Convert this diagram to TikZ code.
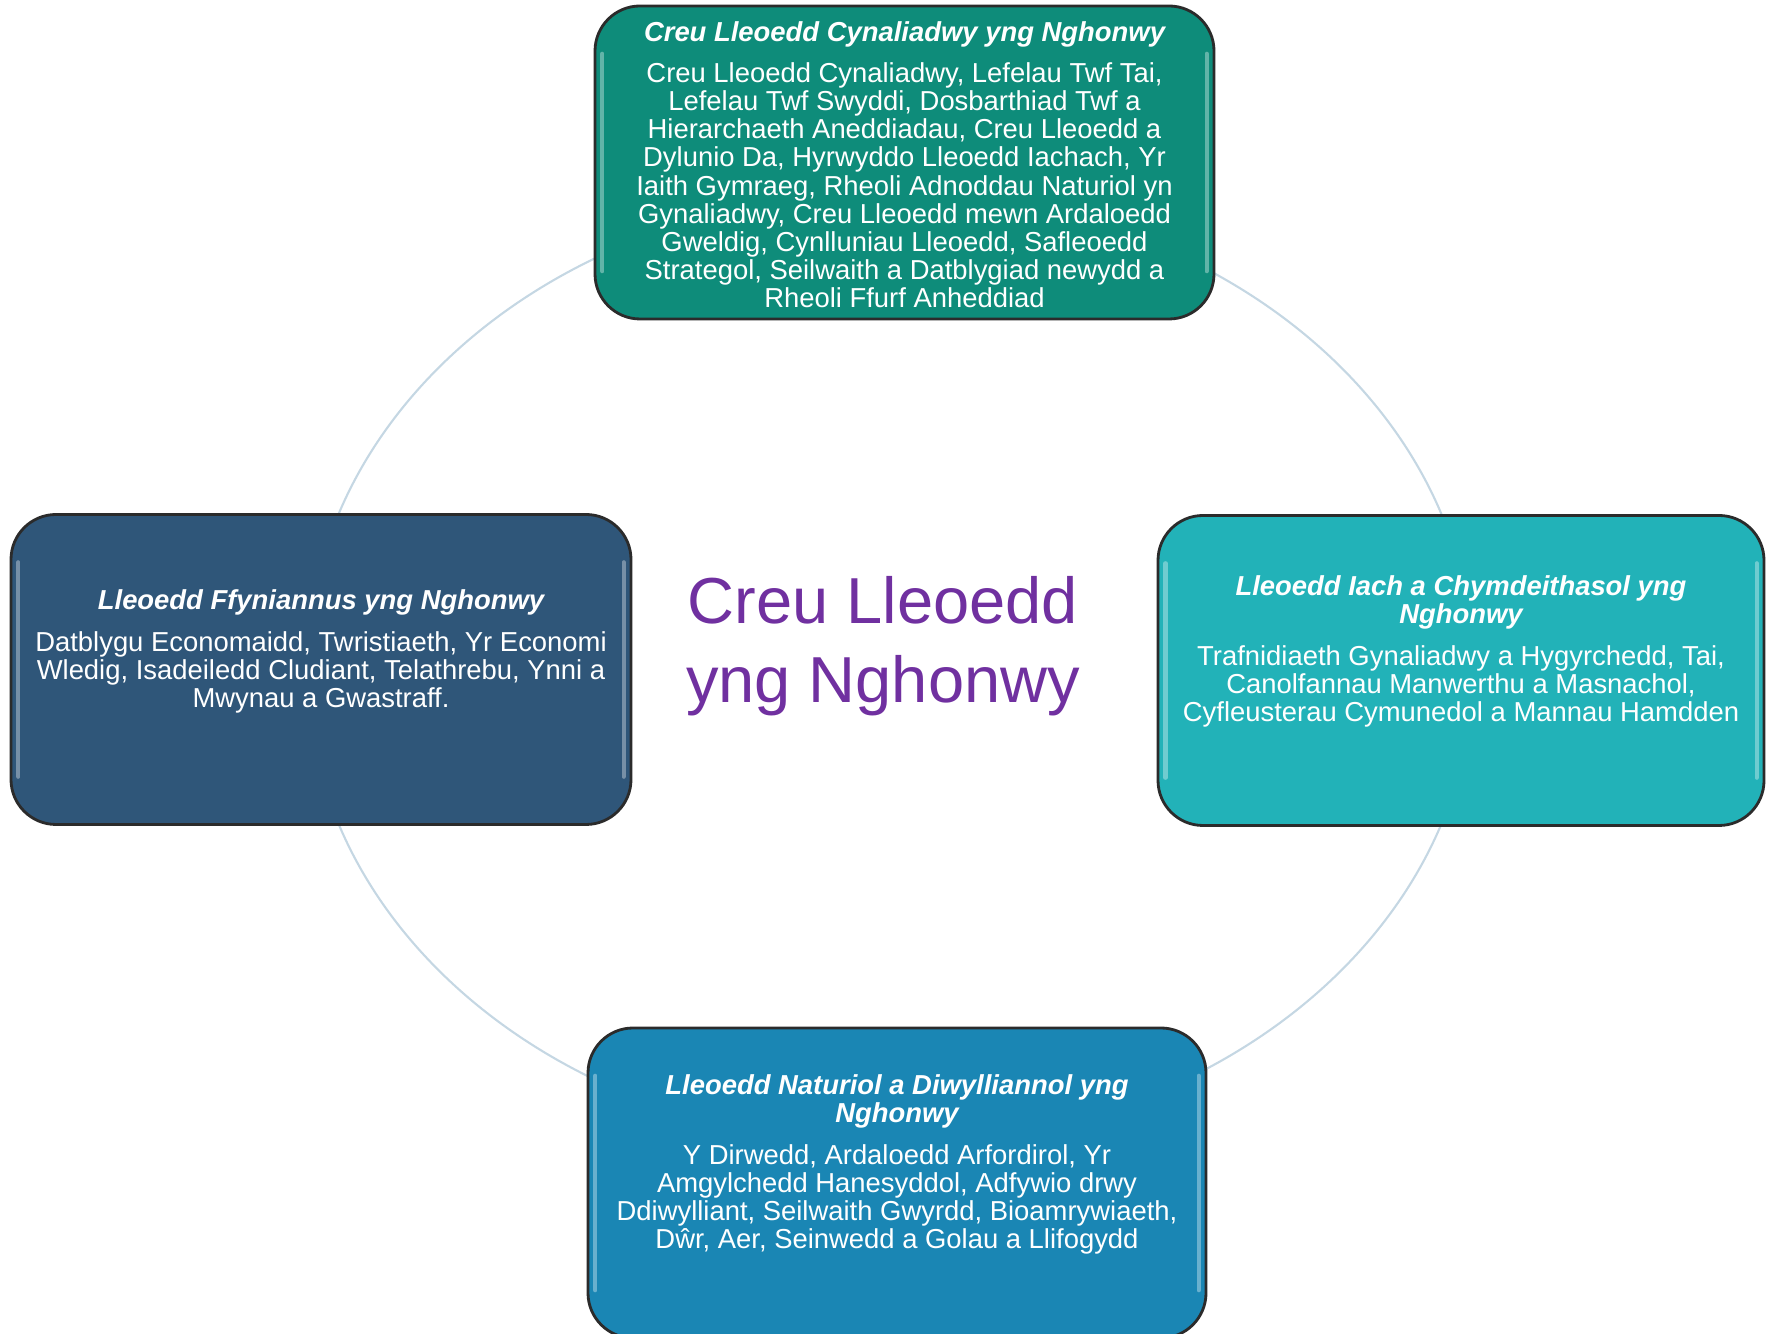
\documentclass[tikz,border=0pt]{standalone}
\usepackage{fontspec}
\setmainfont{Liberation Sans}
\usetikzlibrary{positioning}

\definecolor{sustgreen}{HTML}{0E8C7A}
\definecolor{prosblue}{HTML}{2F5679}
\definecolor{healthteal}{HTML}{22B2B8}
\definecolor{natblue}{HTML}{1A86B4}
\definecolor{ringgrey}{HTML}{C5D7E3}
\definecolor{hubpurple}{HTML}{7030A0}
\definecolor{edgegrey}{HTML}{2B2B2B}

\tikzset{
  placebox/.style={draw=edgegrey, line width=0.8pt, rounded corners=4.5mm,
    minimum width=6.2cm, minimum height=3.1cm, inner sep=0pt},
  boxtext/.style={text=white, align=center, inner sep=0pt,
    font=\fontsize{7.8}{8}\selectfont},
  hubtext/.style={text=hubpurple, align=center, inner sep=0pt,
    font=\fontsize{18.5}{22.4}\selectfont},
  gloss/.style={white, opacity=0.35, line width=1.2pt, line cap=round},
}
\newcommand{\titlefont}{\bfseries\itshape}
\newcommand{\bodyfont}{\mdseries\upshape}

\begin{document}
\begin{tikzpicture}

\useasboundingbox (0,0) rectangle (17.67,13.34);

% ==== Ring behind the boxes ====
\draw[ringgrey, line width=0.6pt] (8.90,6.65) ellipse [x radius=5.83, y radius=4.76];

% ==== Boxes ====
\node[placebox, fill=sustgreen, minimum width=6.19cm, minimum height=3.13cm] (sust) at (9.045,11.715) {};
\node[placebox, fill=prosblue] (pros) at (3.21,6.645) {};
\node[placebox, fill=healthteal, minimum width=6.06cm] (health) at (14.61,6.635) {};
\node[placebox, fill=natblue, minimum width=6.18cm] (nat) at (8.97,1.51) {};

% Highlights along the side edges
\foreach \b in {sust,pros,health,nat} {
  \draw[gloss] ([xshift=2.5pt,yshift=-14pt]\b.north west) -- ([xshift=2.5pt,yshift=14pt]\b.south west);
  \draw[gloss] ([xshift=-2.5pt,yshift=-14pt]\b.north east) -- ([xshift=-2.5pt,yshift=14pt]\b.south east);
}

% ==== Box texts ====
\node[boxtext] (sust text) at ([yshift=-0.2mm]sust.center) {\titlefont Creu Lleoedd Cynaliadwy yng Nghonwy\\[3.8pt]
  \bodyfont Creu Lleoedd Cynaliadwy, Lefelau Twf Tai,\\
  Lefelau Twf Swyddi, Dosbarthiad Twf a\\
  Hierarchaeth Aneddiadau, Creu Lleoedd a\\
  Dylunio Da, Hyrwyddo Lleoedd Iachach, Yr\\
  Iaith Gymraeg, Rheoli Adnoddau Naturiol yn\\
  Gynaliadwy, Creu Lleoedd mewn Ardaloedd\\
  Gweldig, Cynlluniau Lleoedd, Safleoedd\\
  Strategol, Seilwaith a Datblygiad newydd a\\
  Rheoli Ffurf Anheddiad};

\node[boxtext] (pros text) at ([yshift=1.8mm]pros.center) {\titlefont Lleoedd Ffyniannus yng Nghonwy\\[3.8pt]
  \bodyfont Datblygu Economaidd, Twristiaeth, Yr Economi\\
  Wledig, Isadeiledd Cludiant, Telathrebu, Ynni a\\
  Mwynau a Gwastraff.};

\node[boxtext] (health text) at ([yshift=1.9mm]health.center) {\titlefont Lleoedd Iach a Chymdeithasol yng\\
  \titlefont Nghonwy\\[3.8pt]
  \bodyfont Trafnidiaeth Gynaliadwy a Hygyrchedd, Tai,\\
  Canolfannau Manwerthu a Masnachol,\\
  Cyfleusterau Cymunedol a Mannau Hamdden};

\node[boxtext] (nat text) at ([yshift=1.85mm]nat.center) {\titlefont Lleoedd Naturiol a Diwylliannol yng\\
  \titlefont Nghonwy\\[3.8pt]
  \bodyfont Y Dirwedd, Ardaloedd Arfordirol, Yr\\
  Amgylchedd Hanesyddol, Adfywio drwy\\
  Ddiwylliant, Seilwaith Gwyrdd, Bioamrywiaeth,\\
  Dŵr, Aer, Seinwedd a Golau a Llifogydd};

% ==== Centre ====
\node[hubtext] (hub) at (8.83,6.88) {Creu Lleoedd\\yng Nghonwy};

\end{tikzpicture}
\end{document}
